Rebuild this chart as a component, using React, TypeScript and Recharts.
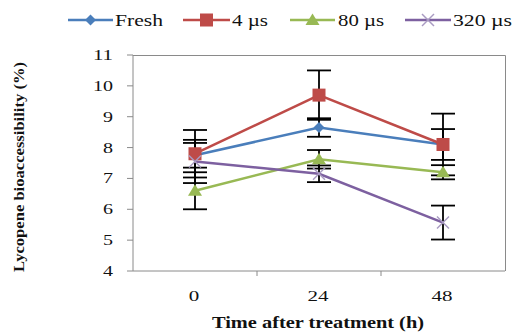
import { ErrorBar, Label, Line, LineChart, XAxis, YAxis } from "recharts";

const categories = ["0", "24", "48"];
const fresh = [7.75, 8.65, 8.1];
const freshErr = [0.4, 0.3, 0.5];
const us4 = [7.8, 9.7, 8.1];
const us4Err = [0.77, 0.8, 1.0];
const us80 = [6.6, 7.62, 7.2];
const us80Err = [0.6, 0.3, 0.23];
const us320 = [7.55, 7.15, 5.57];
const us320Err = [0.7, 0.27, 0.55];
const yTicks = [4, 5, 6, 7, 8, 9, 10, 11];

const seriesNames = ["Fresh", "4 \u00b5s", "80 \u00b5s", "320 \u00b5s"];

const data = categories.map((c, i) => ({
  time: c,
  fresh: fresh[i],
  freshErr: freshErr[i],
  us4: us4[i],
  us4Err: us4Err[i],
  us80: us80[i],
  us80Err: us80Err[i],
  us320: us320[i],
  us320Err: us320Err[i],
}));

const BLUE = "#4a7ebb";
const RED = "#be4b48";
const GREEN = "#98b954";
const PURPLE = "#7d60a0";
const LAVENDER = "#a99bc2";
const FRAME = "#8a8a8a";
const FONT = "Liberation Serif";

// plot box (Excel-like frame); PAD is half a category band
const PLOT = { left: 133, top: 55, right: 505, bottom: 271 };
const PAD = 62;

type MarkerProps = { cx?: number; cy?: number; index?: number };

function diamond({ cx = 0, cy = 0, index }: MarkerProps) {
  return (
    <polygon
      key={`d${index}`}
      points={`${cx},${cy - 5.5} ${cx + 5.5},${cy} ${cx},${cy + 5.5} ${cx - 5.5},${cy}`}
      fill={BLUE}
    />
  );
}

function square({ cx = 0, cy = 0, index }: MarkerProps) {
  return <rect key={`s${index}`} x={cx - 6.5} y={cy - 6.5} width={13} height={13} fill={RED} />;
}

function triangle({ cx = 0, cy = 0, index }: MarkerProps) {
  return (
    <polygon
      key={`t${index}`}
      points={`${cx},${cy - 6.5} ${cx + 7},${cy + 5} ${cx - 7},${cy + 5}`}
      fill={GREEN}
    />
  );
}

function cross({ cx = 0, cy = 0, index }: MarkerProps) {
  return (
    <g key={`x${index}`} stroke={LAVENDER} strokeWidth={1.5}>
      <line x1={cx - 6} y1={cy - 6} x2={cx + 6} y2={cy + 6} />
      <line x1={cx - 6} y1={cy + 6} x2={cx + 6} y2={cy - 6} />
    </g>
  );
}

const textStyle = { fontFamily: FONT };

function XTick({ x, y, payload }: any) {
  const s = String(payload.value);
  return (
    <text
      x={x - 1}
      y={y + 30}
      textAnchor="middle"
      style={textStyle}
      fontSize={14}
      fill="#111"
      textLength={10.5 * s.length}
      lengthAdjust="spacingAndGlyphs"
    >
      {s}
    </text>
  );
}

function YTick({ x, y, payload }: any) {
  const s = String(payload.value);
  return (
    <text
      x={x}
      y={y + 5}
      textAnchor="end"
      style={textStyle}
      fontSize={14}
      fill="#111"
      textLength={10 * s.length}
      lengthAdjust="spacingAndGlyphs"
    >
      {s}
    </text>
  );
}

const legendItems = [
  { name: seriesNames[0], color: BLUE, marker: diamond, x0: 68, x1: 113, tx: 115, tw: 48 },
  { name: seriesNames[1], color: RED, marker: square, x0: 183, x1: 230, tx: 232, tw: 36 },
  { name: seriesNames[2], color: GREEN, marker: triangle, x0: 290, x1: 335, tx: 338, tw: 46 },
  { name: seriesNames[3], color: PURPLE, marker: cross, x0: 405, x1: 451, tx: 453, tw: 59 },
];

function TopLegend() {
  return (
    <svg width={514} height={36} style={{ position: "absolute", left: 0, top: 0 }}>
      {legendItems.map((it, i) => (
        <g key={it.name}>
          <line x1={it.x0} y1={20} x2={it.x1} y2={20} stroke={it.color} strokeWidth={2.5} />
          {it.marker({ cx: (it.x0 + it.x1) / 2, cy: 20, index: 100 + i })}
          <text
            x={it.tx}
            y={26}
            style={textStyle}
            fontSize={16}
            fill="#111"
            textLength={it.tw}
            lengthAdjust="spacingAndGlyphs"
          >
            {it.name}
          </text>
        </g>
      ))}
    </svg>
  );
}

// top/right edges of the plot box and the between-category tick marks
function FrameOverlay() {
  const band = (PLOT.right - PLOT.left) / categories.length;
  return (
    <svg
      width={514}
      height={333}
      style={{ position: "absolute", left: 0, top: 0, pointerEvents: "none", zIndex: 2 }}
    >
      <polyline
        points={`${PLOT.left},${PLOT.top + 0.5} ${PLOT.right + 0.5},${PLOT.top + 0.5} ${PLOT.right + 0.5},${PLOT.bottom}`}
        fill="none"
        stroke={FRAME}
        strokeWidth={1}
      />
      {categories.slice(1).map((c, i) => (
        <line
          key={c}
          x1={PLOT.left + band * (i + 1)}
          y1={PLOT.bottom}
          x2={PLOT.left + band * (i + 1)}
          y2={PLOT.bottom + 5}
          stroke={FRAME}
        />
      ))}
    </svg>
  );
}

export default function App() {
  return (
    <div style={{ position: "absolute", left: 0, top: 0, width: 514, height: 333, background: "#fff" }}>
      <TopLegend />
      <LineChart
        width={514}
        height={333}
        data={data}
        margin={{ top: PLOT.top, right: 514 - PLOT.right, bottom: 0, left: 0 }}
      >
        <XAxis
          dataKey="time"
          height={333 - PLOT.bottom}
          padding={{ left: PAD, right: PAD }}
          tickLine={false}
          tickSize={0}
          tickMargin={0}
          stroke={FRAME}
          tick={<XTick />}
        >
          <Label
            content={() => (
              <text
                x={318}
                y={328}
                textAnchor="middle"
                style={textStyle}
                fontSize={16}
                fontWeight="bold"
                fill="#111"
                textLength={212}
                lengthAdjust="spacingAndGlyphs"
              >
                Time after treatment (h)
              </text>
            )}
          />
        </XAxis>
        <YAxis
          domain={[4, 11]}
          ticks={yTicks}
          interval={0}
          width={PLOT.left}
          tickSize={6}
          tickMargin={14}
          stroke={FRAME}
          tick={<YTick />}
        >
          <Label
            content={() => (
              <text
                x={0}
                y={0}
                transform="translate(24,167) rotate(-90)"
                textAnchor="middle"
                style={textStyle}
                fontSize={15}
                fontWeight="bold"
                fill="#111"
                textLength={210}
                lengthAdjust="spacingAndGlyphs"
              >
                Lycopene bioaccessibility (%)
              </text>
            )}
          />
        </YAxis>
        <Line
          dataKey="fresh"
          stroke={BLUE}
          strokeWidth={2.5}
          dot={diamond}
          activeDot={false}
          isAnimationActive={false}
        >
          <ErrorBar dataKey="freshErr" width={12} stroke="#000" strokeWidth={1.8} direction="y" />
        </Line>
        <Line
          dataKey="us4"
          stroke={RED}
          strokeWidth={2.5}
          dot={square}
          activeDot={false}
          isAnimationActive={false}
        >
          <ErrorBar dataKey="us4Err" width={12} stroke="#000" strokeWidth={1.8} direction="y" />
        </Line>
        <Line
          dataKey="us80"
          stroke={GREEN}
          strokeWidth={2.5}
          dot={triangle}
          activeDot={false}
          isAnimationActive={false}
        >
          <ErrorBar dataKey="us80Err" width={12} stroke="#000" strokeWidth={1.8} direction="y" />
        </Line>
        <Line
          dataKey="us320"
          stroke={PURPLE}
          strokeWidth={2.5}
          dot={cross}
          activeDot={false}
          isAnimationActive={false}
        >
          <ErrorBar dataKey="us320Err" width={12} stroke="#000" strokeWidth={1.8} direction="y" />
        </Line>
      </LineChart>
      <FrameOverlay />
    </div>
  );
}
